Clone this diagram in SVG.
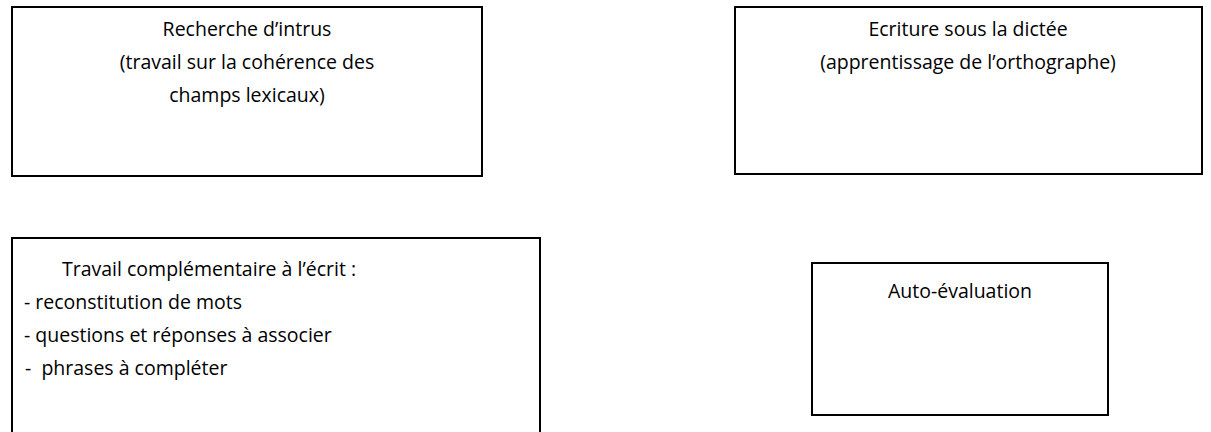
<svg xmlns="http://www.w3.org/2000/svg" width="1211" height="432" viewBox="0 0 1211 432">
<style>
.box{fill:#fff;stroke:#000;stroke-width:2}
text{font-family:"Open Sans",Lato,"Liberation Sans",sans-serif;font-size:19.5px;fill:#000}
.c{text-anchor:middle}
</style>
<rect width="1211" height="432" fill="#fff"/>
<g id="n1">
<rect class="box" x="12" y="7" width="470" height="169"/>
<text class="c" x="247" y="36">Recherche d’intrus</text>
<text class="c" x="247" y="69">(travail sur la cohérence des</text>
<text class="c" x="247" y="102">champs lexicaux)</text>
</g>
<g id="n2">
<rect class="box" x="735" y="7" width="467" height="167"/>
<text class="c" x="968" y="36">Ecriture sous la dictée</text>
<text class="c" x="968" y="69">(apprentissage de l’orthographe)</text>
</g>
<g id="n3">
<rect class="box" x="12" y="238" width="528" height="200"/>
<text x="62" y="276">Travail complémentaire à l’écrit :</text>
<text x="24" y="309" xml:space="preserve">- reconstitution de mots</text>
<text x="24" y="342" xml:space="preserve">- questions et réponses à associer</text>
<text x="25" y="375" xml:space="preserve">-  phrases à compléter</text>
</g>
<g id="n4">
<rect class="box" x="812" y="263" width="296" height="152"/>
<text class="c" x="960" y="298">Auto-évaluation</text>
</g>
<g id="connectors"/>
</svg>
